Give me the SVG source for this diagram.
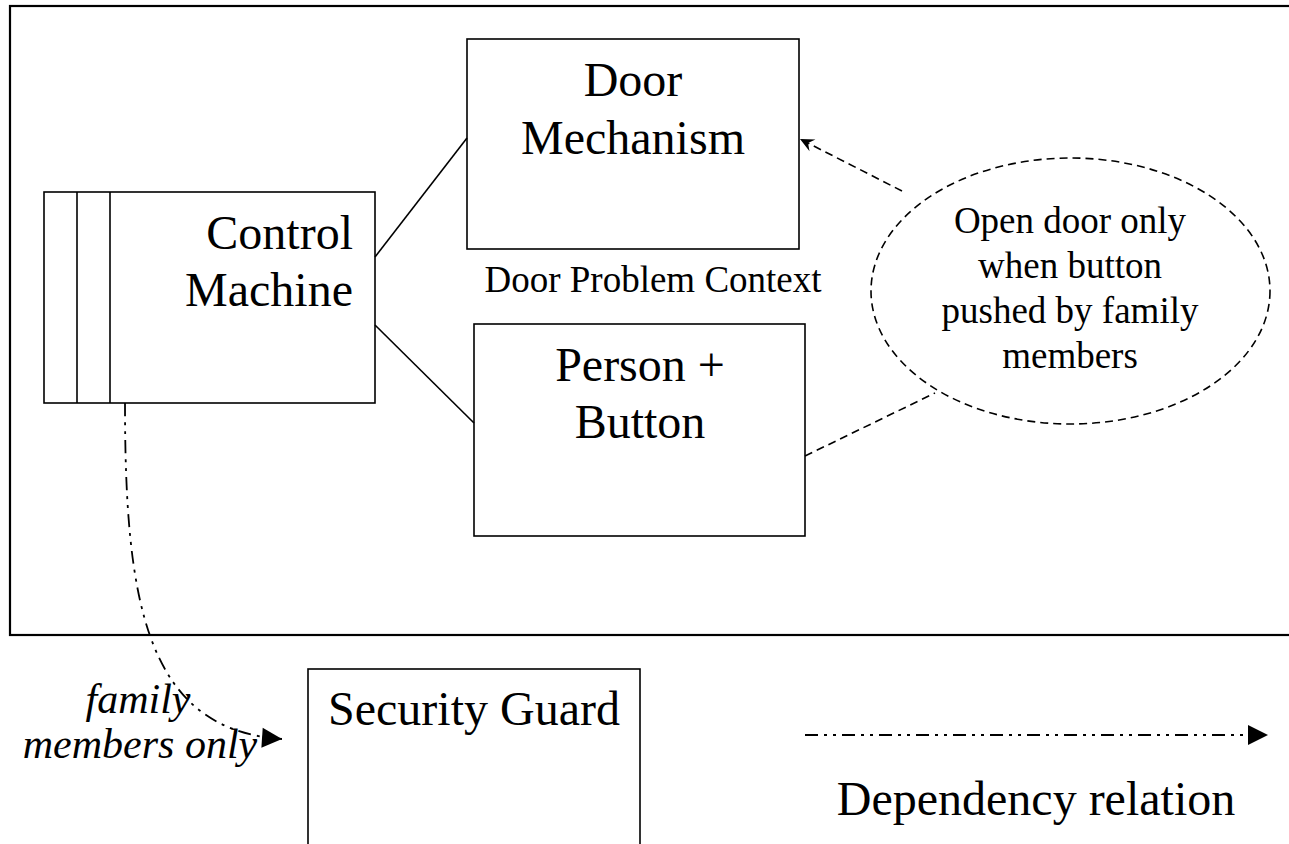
<svg xmlns="http://www.w3.org/2000/svg" width="1289" height="844" viewBox="0 0 1289 844">
<style>
.box{fill:none;stroke:#000;stroke-width:1.6}
.t{font-family:"Liberation Serif","Times New Roman",serif;fill:#000}
.big{font-size:48px}
.mid{font-size:37px}
.it{font-size:42px;font-style:italic}
.solid{fill:none;stroke:#000;stroke-width:1.6}
.dash{fill:none;stroke:#000;stroke-width:1.6;stroke-dasharray:8 5}
.dep{fill:none;stroke:#000;stroke-width:1.8;stroke-dasharray:13 6 3 6 3 6}
</style>
<defs>
<marker id="notch" markerUnits="userSpaceOnUse" markerWidth="20" markerHeight="20" viewBox="-16 -10 20 20" refX="0" refY="0" orient="auto">
<path d="M0,0 L-14,-6.5 L-9,0 L-14,6.5 Z" fill="#000"/>
</marker>
<marker id="tri" markerUnits="userSpaceOnUse" markerWidth="24" markerHeight="24" viewBox="-22 -12 24 24" refX="0" refY="0" orient="auto">
<path d="M0,0 L-20,-10 L-20,10 Z" fill="#000"/>
</marker>
</defs>
<rect width="1289" height="844" fill="#fff"/>
<g id="frame">
<rect x="10" y="6" width="1300" height="629" fill="none" stroke="#000" stroke-width="2.2"/>
</g>
<g id="control-machine">
<rect class="box" x="44" y="192" width="331" height="211"/>
<line class="box" x1="77" y1="192" x2="77" y2="403"/>
<line class="box" x1="110" y1="192" x2="110" y2="403"/>
<text class="t big" x="353" y="249" text-anchor="end">Control</text>
<text class="t big" x="353" y="306" text-anchor="end">Machine</text>
</g>
<g id="door-mechanism">
<rect class="box" x="467" y="39" width="332" height="210"/>
<text class="t big" x="633" y="96" text-anchor="middle">Door</text>
<text class="t big" x="633" y="154" text-anchor="middle">Mechanism</text>
</g>
<g id="context-label">
<text class="t mid" x="653" y="292" text-anchor="middle">Door Problem Context</text>
</g>
<g id="person-button">
<rect class="box" x="474" y="324" width="331" height="212"/>
<text class="t big" x="640" y="381" text-anchor="middle">Person +</text>
<text class="t big" x="640" y="438" text-anchor="middle">Button</text>
</g>
<g id="requirement">
<ellipse cx="1070.5" cy="291" rx="199.5" ry="133" class="dash"/>
<text class="t mid" x="1070" y="233" text-anchor="middle">Open door only</text>
<text class="t mid" x="1070" y="278" text-anchor="middle">when button</text>
<text class="t mid" x="1070" y="323" text-anchor="middle">pushed by family</text>
<text class="t mid" x="1070" y="368" text-anchor="middle">members</text>
</g>
<g id="security-guard">
<rect class="box" x="308" y="669" width="332" height="200"/>
<text class="t big" x="474" y="725" text-anchor="middle">Security Guard</text>
</g>
<g id="legend">
<text class="t big" x="1036" y="815" text-anchor="middle">Dependency relation</text>
</g>
<g id="connectors">
<line class="solid" x1="375" y1="257" x2="467" y2="138"/>
<line class="solid" x1="375" y1="325" x2="474" y2="423"/>
<line class="dash" x1="902" y1="191" x2="800" y2="139" marker-end="url(#notch)"/>
<line class="dash" x1="805" y1="456" x2="935" y2="393"/>
<path class="dep" d="M125,403 C125,600 145,730 282,739" marker-end="url(#tri)"/>
<path d="M282,739 L302,739" stroke="none"/>
<line class="dep" x1="805" y1="735" x2="1268" y2="735" marker-end="url(#tri)"/>
</g>
<g id="edge-label">
<text class="t it" x="138" y="713" text-anchor="middle">family</text>
<text class="t it" x="140" y="758" text-anchor="middle">members only</text>
</g>
</svg>
